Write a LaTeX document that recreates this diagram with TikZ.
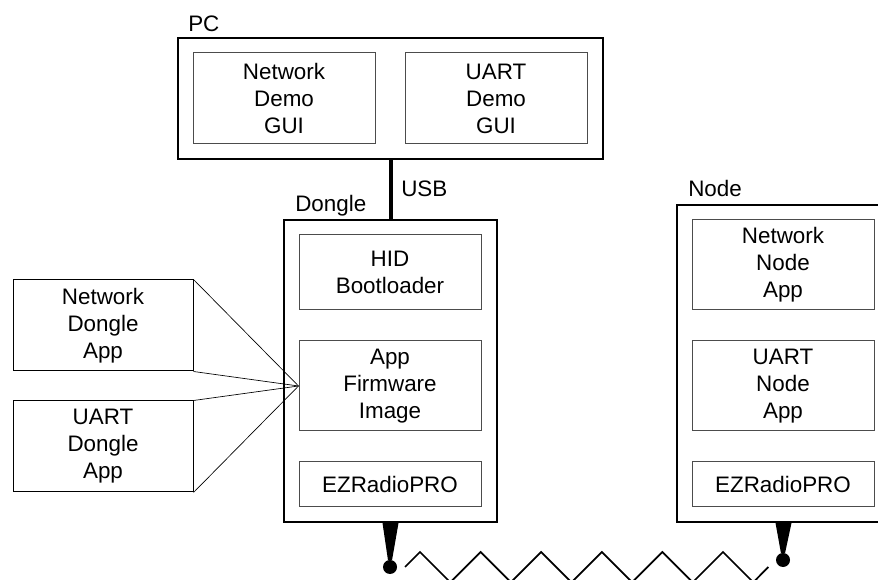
\documentclass[tikz,border=0pt]{standalone}
\usepackage{fontspec}
\setmainfont{Liberation Sans}
\usetikzlibrary{fit}

\begin{document}
\begin{tikzpicture}[x=0.75pt, y=-0.75pt,
  every node/.style={font=\fontsize{16.8}{20.25}\selectfont, text=black},
  outerbox/.style={draw=black, line width=1.5pt, inner sep=0pt},
  innerbox/.style={draw=black!70, line width=0.75pt, inner sep=0pt},
  appbox/.style={draw=black, line width=0.75pt, inner sep=0pt},
  caption/.style={label={[align=center, inner sep=0pt]center:#1}},
  boxlabel/.style={anchor=base west, inner sep=0pt},
  feed/.style={draw=black, line width=0.5pt},
  usblink/.style={draw=black, line width=3pt},
  radiolink/.style={draw=black, line width=1.3pt, line join=miter},
  antenna/.style={fill=black, draw=none}
]
\useasboundingbox (0,0) rectangle (878,580);

% PC with its two GUIs
\node[outerbox, fit={(178,38) (603,159)}] (pc) {};
\node[boxlabel] (pclabel) at (188,32) {PC};
\node[innerbox, fit={(193,53) (375,144)}, caption={Network\\Demo\\GUI}] (netgui) {};
\node[innerbox, fit={(405,53) (587,144)}, caption={UART\\Demo\\GUI}] (uartgui) {};

% Dongle
\node[outerbox, fit={(284,220) (497,522)}] (dongle) {};
\node[boxlabel] (donglelabel) at (295,212) {Dongle};
\node[innerbox, fit={(299,235) (481,310)}, caption={HID\\Bootloader}] (hid) {};
\node[innerbox, fit={(299,341) (481,431)}, caption={App\\Firmware\\Image}] (fw) {};
\node[innerbox, fit={(299,462) (481,507)}, caption={EZRadioPRO}] (dradio) {};

% USB link
\draw[usblink] (pc.south) -- (dongle.north);
\node[boxlabel] (usblabel) at (401,197) {USB};

% Applications that can be loaded into the dongle firmware
\node[appbox, fit={(13,280) (193,371)}, caption={Network\\Dongle\\App}] (netapp) {};
\node[appbox, fit={(13,401) (193,492)}, caption={UART\\Dongle\\App}] (uartapp) {};
\draw[feed] (netapp.north east) -- (fw.west);
\draw[feed] (netapp.south east) -- (fw.west);
\draw[feed] (uartapp.north east) -- (fw.west);
\draw[feed] (uartapp.south east) -- (fw.west);

% Node
\node[outerbox, fit={(677,205) (890,522)}] (node) {};
\node[boxlabel] (nodelabel) at (688,197) {Node};
\node[innerbox, fit={(692,220) (874,310)}, caption={Network\\Node\\App}] (netnode) {};
\node[innerbox, fit={(692,341) (874,431)}, caption={UART\\Node\\App}] (uartnode) {};
\node[innerbox, fit={(692,462) (874,507)}, caption={EZRadioPRO}] (nradio) {};

% Antennas
\coordinate (antA) at (390,567);
\coordinate (antB) at (783,560);
\fill[antenna] ([xshift=-6pt]dongle.south) -- ([xshift=6pt]dongle.south)
  -- ([xshift=1.5pt,yshift=5pt]antA) -- ([xshift=-1.5pt,yshift=5pt]antA) -- cycle;
\fill[antenna] (antA) circle[radius=5.25pt];
\fill[antenna] ([xshift=-6pt]node.south) -- ([xshift=6pt]node.south)
  -- ([xshift=1.5pt,yshift=5pt]antB) -- ([xshift=-1.5pt,yshift=5pt]antB) -- cycle;
\fill[antenna] (antB) circle[radius=5.25pt];

% Radio link between the two antennas
\coordinate (zzA) at (405,567);
\coordinate (zzB) at (768.3,567);
\draw[radiolink] (zzA) -- (420,552) -- (450.3,582.3) -- (480.6,552) -- (510.9,582.3)
  -- (541.2,552) -- (571.5,582.3) -- (601.8,552) -- (632.1,582.3) -- (662.4,552)
  -- (692.7,582.3) -- (723,552) -- (753.3,582.3) -- (zzB);
\end{tikzpicture}
\end{document}
